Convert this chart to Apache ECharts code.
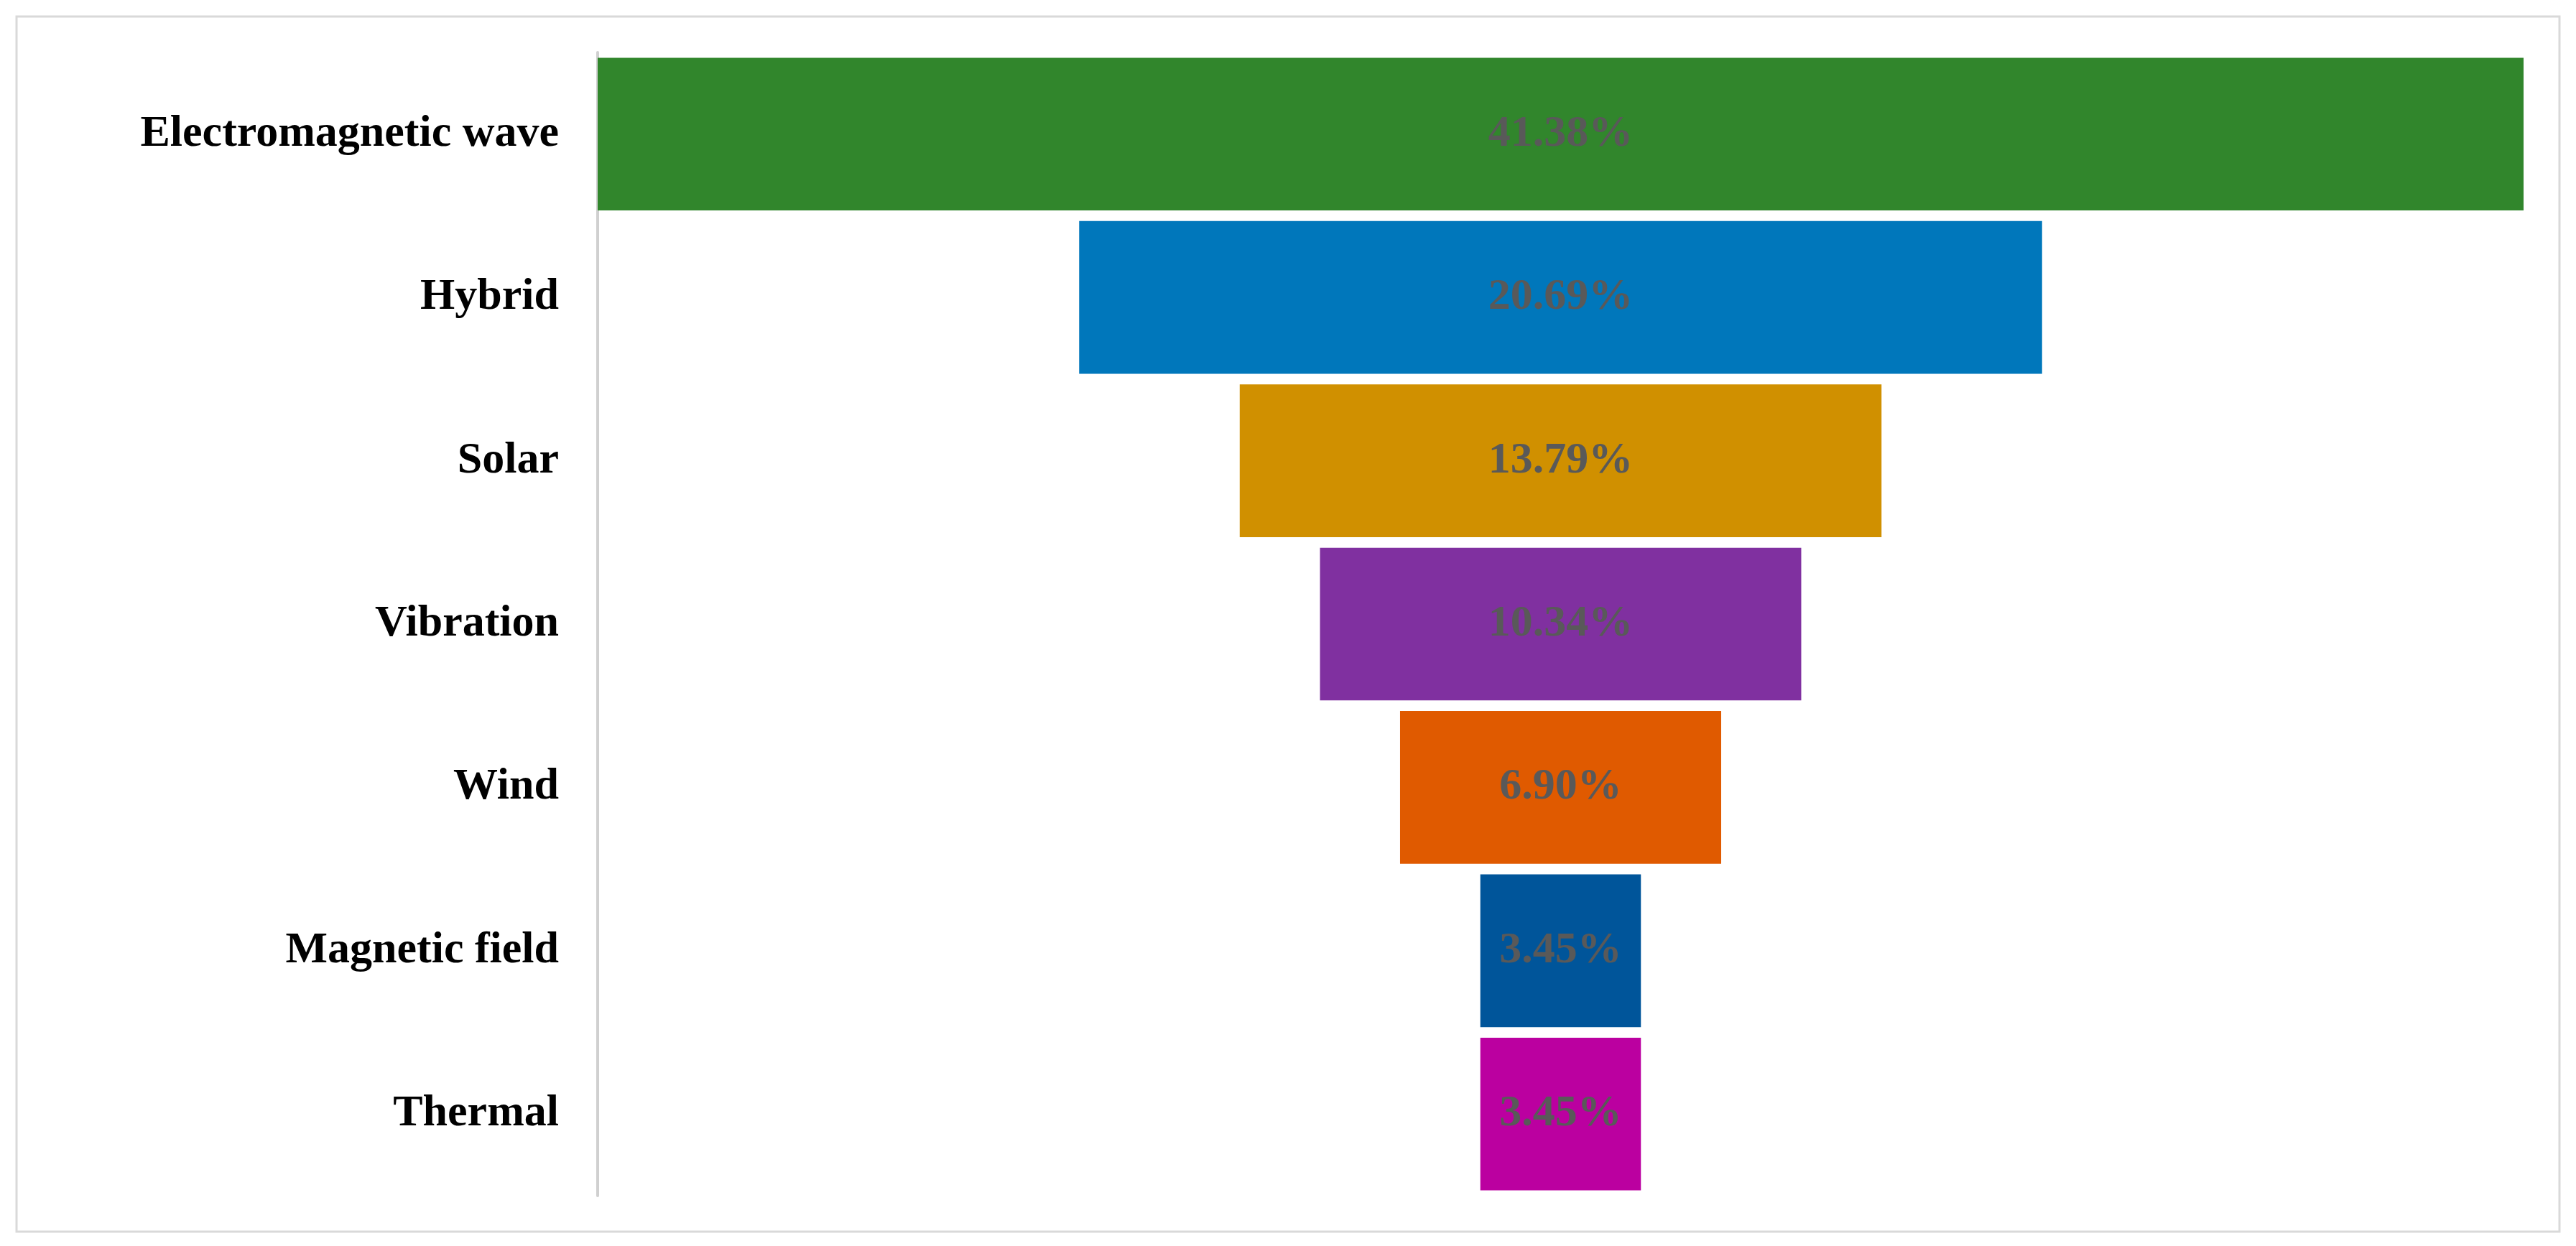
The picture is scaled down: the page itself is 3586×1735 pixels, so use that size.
<!DOCTYPE html>
<html><head><meta charset="utf-8">
<script src="https://cdn.jsdelivr.net/npm/echarts@6/dist/echarts.min.js"></script>
<style>html,body{margin:0;padding:0;background:#fff}#c{width:3586px;height:1735px}</style>
</head><body><div id="c"></div>
<script>
const categories = ['Electromagnetic wave','Hybrid','Solar','Vibration','Wind','Magnetic field','Thermal'];
const values = [41.38, 20.69, 13.79, 10.34, 6.90, 3.45, 3.45];
const colors = ['#31862c','#0077bb','#d09000','#8030a0','#e05a00','#00559a','#bb00a0'];
const maxV = Math.max(...values);
const offsets = values.map(v => (maxV - v) / 2);
const chart = echarts.init(document.getElementById('c'));
chart.setOption({
  animation:false,
  graphic:[{type:'rect',shape:{x:23,y:23,width:3540,height:1692},style:{fill:'none',stroke:'#d9d9d9',lineWidth:3}}],
  grid:{left:832,right:73,top:73,bottom:70},
  xAxis:{type:'value',min:0,max:maxV,show:false},
  yAxis:{type:'category',data:categories,inverse:true,
    axisLine:{show:true,lineStyle:{color:'#d0d0d0',width:4}},axisTick:{show:false},
    axisLabel:{margin:54,color:'#000',fontFamily:'Liberation Serif',fontWeight:'bold',fontSize:62}},
  series:[
    {type:'bar',stack:'f',data:offsets,itemStyle:{color:'transparent'},barCategoryGap:'6.5%',silent:true},
    {type:'bar',stack:'f',data:values.map((v,i)=>({value:v,itemStyle:{color:colors[i]}})),
     label:{show:true,position:'inside',formatter:p=>p.value.toFixed(2)+'%',color:'#595959',
       fontFamily:'Liberation Serif',fontWeight:'bold',fontSize:62}}
  ]
});
</script></body></html>
